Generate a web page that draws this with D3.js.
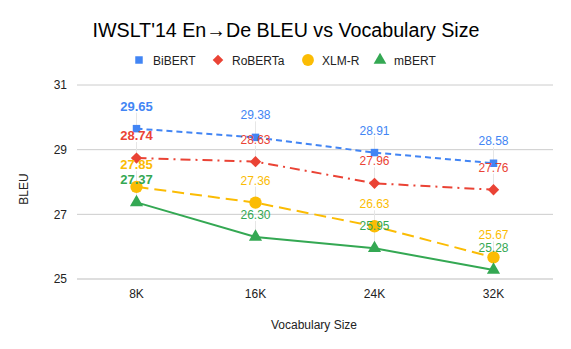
<!DOCTYPE html>
<html><head><meta charset="utf-8">
<script src="https://cdn.jsdelivr.net/npm/d3@7"></script>
<style>body{margin:0;background:#fff}svg{display:block;font-family:"Liberation Sans",Arial,sans-serif}</style>
</head><body><svg id="c" width="571" height="349"></svg>
<script>
const categories = ["8K","16K","24K","32K"];
const seriesNames = ["BiBERT","RoBERTa","XLM-R","mBERT"];
const bibert = [29.65, 29.38, 28.91, 28.58];
const roberta = [28.74, 28.63, 27.96, 27.76];
const xlmr = [27.85, 27.36, 26.63, 25.67];
const mbert = [27.37, 26.30, 25.95, 25.28];
const yTicks = [25, 27, 29, 31];
const colors = ["#4285F4","#EA4335","#FBBC04","#34A853"];
const dashes = ["6,4","10,5,2,5","12,6",null];
const shapes = [d3.symbolSquare, d3.symbolSquare, d3.symbolCircle, d3.symbolTriangle];
const rotations = [0, 45, 0, 0];
const shapeSizes = [56, 64, 120, 75];

const series = [bibert, roberta, xlmr, mbert];
const svg = d3.select("#c");
const L = 77, R = 553, T = 85, B = 279;
const x = d3.scaleBand().domain(categories).range([L, R]);
const y = d3.scaleLinear().domain([25, 31]).range([B, T]);
const cx = c => x(c) + x.bandwidth()/2;

// title
svg.append("text").attr("x", 286).attr("y", 37).attr("text-anchor","middle")
  .attr("font-size", 20).attr("fill","#000")
  .attr("textLength", 387).attr("lengthAdjust","spacingAndGlyphs")
  .text("IWSLT'14 En→De BLEU vs Vocabulary Size");

// legend
const legX = [139, 218, 308, 380];
seriesNames.forEach((n,i)=>{
  svg.append("path").attr("d", d3.symbol(shapes[i], [56,56,110,70][i])())
    .attr("transform",`translate(${legX[i]},${60}) rotate(${rotations[i]})`).attr("fill", colors[i]);
  svg.append("text").attr("x", legX[i]+14).attr("y", 64.5).attr("font-size", 12)
    .attr("fill","#222").text(n);
});

// grid
svg.append("g").selectAll("line").data(yTicks).join("line")
  .attr("x1", L).attr("x2", R).attr("y1", d=>y(d)).attr("y2", d=>y(d))
  .attr("stroke", d=> d===25 ? "#bdbdbd" : "#cccccc").attr("stroke-width",1);

// y axis labels
const yAxis = d3.axisLeft(y).tickValues(yTicks).tickFormat(d3.format("d")).tickSize(0).tickPadding(10);
const ya = svg.append("g").attr("transform",`translate(${L},0)`).call(yAxis);
ya.select(".domain").remove();
ya.selectAll("text").attr("font-size",12).attr("fill","#222").attr("font-family","Liberation Sans, Arial, sans-serif");

// x axis labels
const xAxis = d3.axisBottom(x).tickSize(0).tickPadding(10);
const xa = svg.append("g").attr("transform",`translate(0,${B})`).call(xAxis);
xa.select(".domain").remove();
xa.selectAll("text").attr("font-size",12).attr("fill","#222").attr("font-family","Liberation Sans, Arial, sans-serif");

// axis titles
svg.append("text").attr("x", 314).attr("y", 329).attr("text-anchor","middle")
  .attr("font-size", 12).attr("fill","#222").text("Vocabulary Size");
svg.append("text").attr("transform","translate(28,189) rotate(-90)").attr("text-anchor","middle")
  .attr("font-size", 12).attr("fill","#222").text("BLEU");

// leader lines
series.forEach((s,i)=>{
  s.forEach((v,j)=>{
    svg.append("line").attr("x1", cx(categories[j])).attr("x2", cx(categories[j]))
      .attr("y1", y(v)-16).attr("y2", y(v)).attr("stroke","#e6e6e6").attr("stroke-width",1);
  });
});

// lines
const line = d3.line().x((d,j)=>cx(categories[j])).y(d=>y(d));
series.forEach((s,i)=>{
  svg.append("path").datum(s).attr("d", line).attr("fill","none")
    .attr("stroke", colors[i]).attr("stroke-width", 2)
    .attr("stroke-dasharray", dashes[i]);
});

// markers
series.forEach((s,i)=>{
  s.forEach((v,j)=>{
    svg.append("path").attr("d", d3.symbol(shapes[i], shapeSizes[i])())
      .attr("transform",`translate(${cx(categories[j])},${y(v)}) rotate(${rotations[i]})`).attr("fill", colors[i]);
  });
});

// labels
series.forEach((s,i)=>{
  s.forEach((v,j)=>{
    const first = j===0;
    svg.append("text").attr("x", cx(categories[j])).attr("y", y(v) - 18)
      .attr("text-anchor","middle").attr("font-size", first ? 13 : 12)
      .attr("font-weight", first ? "bold" : "normal")
      .attr("fill", colors[i]).text(v.toFixed(2));
  });
});
</script></body></html>
